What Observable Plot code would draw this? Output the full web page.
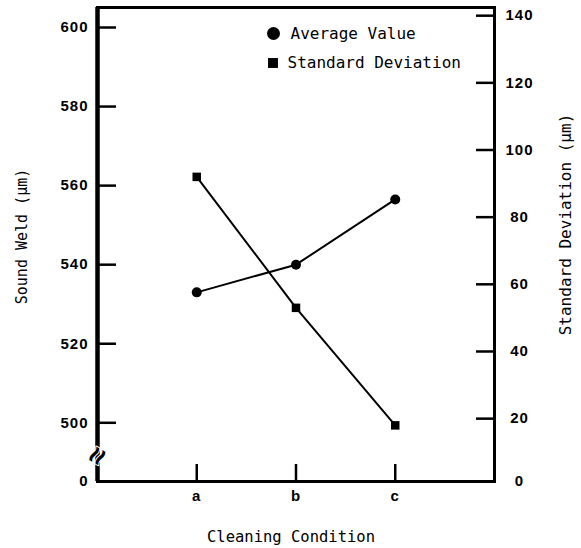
<!DOCTYPE html>
<html>
<head>
<meta charset="utf-8">
<script src="https://cdn.jsdelivr.net/npm/d3@7"></script>
<script src="https://cdn.jsdelivr.net/npm/@observablehq/plot@0.6"></script>
<style>
  html, body { margin: 0; padding: 0; background: #fff; }
  #chart svg { display: block; }
</style>
</head>
<body>
<div id="chart"></div>
<script>
// ---- data ----
const categories = ["a", "b", "c"];
const avgValues = [533, 540, 556.5];      // Sound Weld (µm), left axis
const sdValues = [92, 53, 18];            // Standard Deviation (µm), right axis

const leftTickValues = [500, 520, 540, 560, 580, 600];
const leftZeroLabel = "0";
const rightTickValues = [0, 20, 40, 60, 80, 100, 120, 140];

const legendLabels = ["Average Value", "Standard Deviation"];
const xTitle = "Cleaning Condition";
const leftTitle = "Sound Weld (\u03bcm)";
const rightTitle = "Standard Deviation (\u03bcm)";

// ---- scales (left axis has a break between 0 and 500) ----
const yDomain = [485.15, 605.06];
const xDomain = [-1, 3];
const breakAt = 491.6;
// right axis (0..140) expressed in left-axis units
const rightBase = 484.06, rightPerUnit = 0.8495;
const sdToLeft = s => Math.max(rightBase + rightPerUnit * s, yDomain[0]);

const avgData = categories.map((c, i) => ({i, v: avgValues[i]}));
const sdData = categories.map((c, i) => ({i, v: sdToLeft(sdValues[i])}));

const tickFont = {fontSize: 15, fontWeight: "bold", fontFamily: "Liberation Sans, Arial, sans-serif"};
const mono = "DejaVu Sans Mono, monospace";

const leftLabelVals = [yDomain[0], ...leftTickValues];
const leftLabelMap = new Map(leftLabelVals.map((v, k) => [v, k === 0 ? leftZeroLabel : String(v)]));
const rightVals = rightTickValues.map(sdToLeft);
const rightLabelMap = new Map(rightVals.map((v, k) => [v, String(rightTickValues[k])]));

const chart = Plot.plot({
  width: 581,
  height: 548,
  marginLeft: 97,
  marginRight: 87,
  marginTop: 7,
  marginBottom: 67,
  x: {domain: xDomain, axis: null},
  y: {domain: yDomain, axis: null},
  marks: [
    // data
    Plot.line(avgData, {x: "i", y: "v", stroke: "black", strokeWidth: 2}),
    Plot.line(sdData, {x: "i", y: "v", stroke: "black", strokeWidth: 2}),
    Plot.dot(avgData, {x: "i", y: "v", r: 5, fill: "black", symbol: "circle"}),
    Plot.dot(sdData, {x: "i", y: "v", r: 4.8, fill: "black", symbol: "square"}),

    // frame
    Plot.frame({stroke: "black", strokeWidth: 3}),
    Plot.ruleX([xDomain[0]], {stroke: "black", strokeWidth: 4.5}),

    // left axis: inward ticks + labels
    Plot.axisY(leftTickValues, {anchor: "left", label: null, tickSize: -19, tickFormat: () => "", strokeWidth: 2.5}),
    Plot.axisY(leftLabelVals, {anchor: "left", label: null, tickSize: 0, tickPadding: 9, tickFormat: d => leftLabelMap.get(d), ...tickFont}),

    // right axis: inward ticks + labels
    Plot.axisY(rightVals.slice(1), {anchor: "right", label: null, tickSize: -19, tickFormat: () => "", strokeWidth: 2.5}),
    Plot.axisY(rightVals, {anchor: "right", label: null, tickSize: 0, tickPadding: 25, textAnchor: "middle", tickFormat: d => rightLabelMap.get(d), ...tickFont}),

    // x axis: inward ticks + labels
    Plot.axisX([0, 1, 2], {anchor: "bottom", label: null, tickSize: -17, tickFormat: () => "", strokeWidth: 2.5}),
    Plot.axisX([0, 1, 2], {anchor: "bottom", label: null, tickSize: 0, tickPadding: 9, tickFormat: d => categories[d], ...tickFont}),

    // axis break marker
    Plot.text(["\u2248"], {frameAnchor: "left", y: () => breakAt, text: d => d, textAnchor: "middle", lineAnchor: "middle",
      fontSize: 30, fontWeight: "bold", rotate: -60, fill: "black", stroke: "white", strokeWidth: 2, paintOrder: "stroke"}),

    // legend
    Plot.dot([legendLabels[0]], {frameAnchor: "top-left", dx: 176, dy: 26, r: 6.5, fill: "black", symbol: "circle"}),
    Plot.text([legendLabels[0]], {frameAnchor: "top-left", dx: 193, dy: 26, text: d => d, textAnchor: "start", lineAnchor: "middle",
      fontSize: 16, fontFamily: mono, fill: "black"}),
    Plot.dot([legendLabels[1]], {frameAnchor: "top-left", dx: 175.5, dy: 55.5, r: 5.6, fill: "black", symbol: "square"}),
    Plot.text([legendLabels[1]], {frameAnchor: "top-left", dx: 190, dy: 55.5, text: d => d, textAnchor: "start", lineAnchor: "middle",
      fontSize: 16, fontFamily: mono, fill: "black"}),

    // axis titles
    Plot.text([xTitle], {frameAnchor: "bottom", dx: -5, dy: 56, text: d => d, textAnchor: "middle", lineAnchor: "middle",
      fontSize: 15.5, fontFamily: mono, fill: "black"}),
    Plot.text([leftTitle], {frameAnchor: "left", dx: -75, dy: -8, rotate: -90, text: d => d, textAnchor: "middle", lineAnchor: "middle",
      fontSize: 15, fontFamily: mono, fill: "black"}),
    Plot.text([rightTitle], {frameAnchor: "right", dx: 71, dy: -20, rotate: -90, text: d => d, textAnchor: "middle", lineAnchor: "middle",
      fontSize: 16, fontFamily: mono, fill: "black"})
  ]
});

d3.select(chart).selectAll('g[aria-label="y-axis tick label"] text, g[aria-label="x-axis tick label"] text')
  .style("letter-spacing", "1px");

document.getElementById("chart").appendChild(chart);
</script>
</body>
</html>
